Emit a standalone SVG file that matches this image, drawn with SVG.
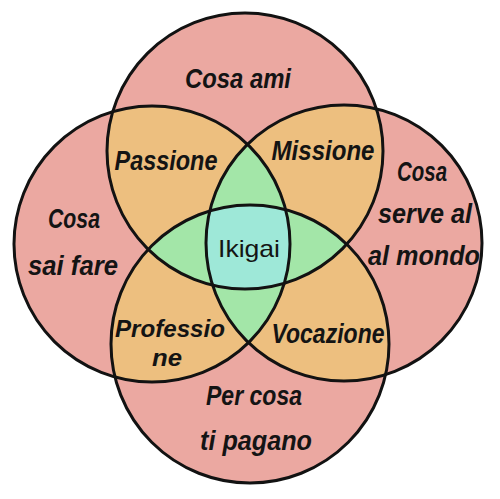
<svg xmlns="http://www.w3.org/2000/svg" xmlns:xlink="http://www.w3.org/1999/xlink" width="500" height="499" viewBox="0 0 500 499">
  <style>
    .p { fill: #EBA8A1; }
    .o { fill: #EDBF7F; }
    .g { fill: #A3E6A8; }
    .c { fill: #9EE8D8; }
    .ring { fill: none; stroke: #121212; stroke-width: 3; }
    .lbl { font-family: "Liberation Sans", "DejaVu Sans", sans-serif; font-style: italic; font-weight: 700; fill: #141414; text-anchor: middle; }
    .core { font-family: "Liberation Sans", "DejaVu Sans", sans-serif; font-weight: 400; fill: #141414; text-anchor: middle; }
  </style>
  <defs>
    <circle id="T" cx="245" cy="151" r="138"/>
    <circle id="L" cx="152" cy="244" r="138"/>
    <circle id="R" cx="344" cy="243" r="138"/>
    <circle id="B" cx="250" cy="344" r="139"/>
    <clipPath id="cT"><circle cx="245" cy="151" r="138"/></clipPath>
    <clipPath id="cL"><circle cx="152" cy="244" r="138"/></clipPath>
    <clipPath id="cR"><circle cx="344" cy="243" r="138"/></clipPath>
    <clipPath id="cB"><circle cx="250" cy="344" r="139"/></clipPath>
  </defs>
  <rect width="500" height="499" fill="#ffffff"/>

  <!-- single-circle areas -->
  <g id="circles">
    <use href="#T" class="p"/>
    <use href="#L" class="p"/>
    <use href="#R" class="p"/>
    <use href="#B" class="p"/>
  </g>
  <!-- two-circle overlaps -->
  <g id="overlaps2">
    <use href="#L" class="o" clip-path="url(#cT)"/>
    <use href="#R" class="o" clip-path="url(#cT)"/>
    <use href="#B" class="o" clip-path="url(#cT)"/>
    <use href="#R" class="o" clip-path="url(#cL)"/>
    <use href="#B" class="o" clip-path="url(#cL)"/>
    <use href="#B" class="o" clip-path="url(#cR)"/>
  </g>
  <!-- three-circle overlaps -->
  <g id="overlaps3">
    <g clip-path="url(#cT)"><use href="#L" class="g" clip-path="url(#cR)"/></g>
    <g clip-path="url(#cT)"><use href="#L" class="g" clip-path="url(#cB)"/></g>
    <g clip-path="url(#cT)"><use href="#R" class="g" clip-path="url(#cB)"/></g>
    <g clip-path="url(#cL)"><use href="#R" class="g" clip-path="url(#cB)"/></g>
  </g>
  <!-- four-circle overlap -->
  <g id="overlap4">
    <g clip-path="url(#cT)"><g clip-path="url(#cL)"><use href="#R" class="c" clip-path="url(#cB)"/></g></g>
  </g>
  <!-- outlines -->
  <g id="outlines">
    <use href="#T" class="ring"/>
    <use href="#L" class="ring"/>
    <use href="#R" class="ring"/>
    <use href="#B" class="ring"/>
  </g>

  <g id="cosa-ami">
    <text class="lbl" x="238" y="88" font-size="28" textLength="106" lengthAdjust="spacingAndGlyphs">Cosa ami</text>
  </g>
  <g id="cosa-sai-fare">
    <text class="lbl" x="74" y="228" font-size="28" textLength="52" lengthAdjust="spacingAndGlyphs">Cosa</text>
    <text class="lbl" x="73" y="275" font-size="28" textLength="90" lengthAdjust="spacingAndGlyphs">sai fare</text>
  </g>
  <g id="cosa-serve-al-mondo">
    <text class="lbl" x="422" y="181" font-size="28" textLength="50" lengthAdjust="spacingAndGlyphs">Cosa</text>
    <text class="lbl" x="425" y="223" font-size="28" textLength="94" lengthAdjust="spacingAndGlyphs">serve al</text>
    <text class="lbl" x="424" y="265" font-size="28" textLength="112" lengthAdjust="spacingAndGlyphs">al mondo</text>
  </g>
  <g id="per-cosa-ti-pagano">
    <text class="lbl" x="254" y="405" font-size="28" textLength="96" lengthAdjust="spacingAndGlyphs">Per cosa</text>
    <text class="lbl" x="256" y="450" font-size="28" textLength="112" lengthAdjust="spacingAndGlyphs">ti pagano</text>
  </g>
  <g id="passione">
    <text class="lbl" x="166" y="170" font-size="27" textLength="103" lengthAdjust="spacingAndGlyphs">Passione</text>
  </g>
  <g id="missione">
    <text class="lbl" x="323" y="160" font-size="27" textLength="103" lengthAdjust="spacingAndGlyphs">Missione</text>
  </g>
  <g id="professione">
    <text class="lbl" x="170" y="337" font-size="24" textLength="110" lengthAdjust="spacingAndGlyphs">Professio</text>
    <text class="lbl" x="167" y="366" font-size="24" textLength="30" lengthAdjust="spacingAndGlyphs">ne</text>
  </g>
  <g id="vocazione">
    <text class="lbl" x="328" y="343" font-size="27" textLength="113" lengthAdjust="spacingAndGlyphs">Vocazione</text>
  </g>
  <g id="ikigai">
    <text class="core" x="249" y="257" font-size="24" textLength="62" lengthAdjust="spacingAndGlyphs">Ikigai</text>
  </g>
</svg>
